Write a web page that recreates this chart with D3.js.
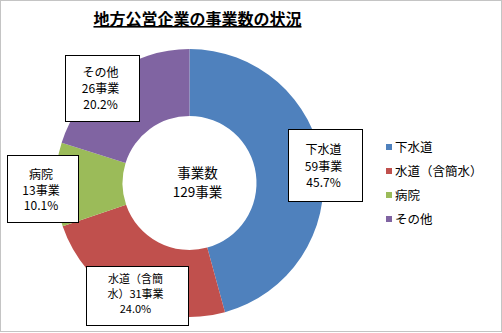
<!DOCTYPE html>
<html>
<head>
<meta charset="utf-8">
<script src="https://cdn.jsdelivr.net/npm/d3@7"></script>
<style>
  body { margin: 0; background: #fff; }
  svg text { font-family: "Noto Sans CJK JP", sans-serif; fill: #000; }
</style>
</head>
<body>
<div id="chart"></div>
<script>
var categories = ['下水道', '水道（含簡水）', '病院', 'その他'];
var counts = [59, 31, 13, 26];
var percents = ['45.7%', '24.0%', '10.1%', '20.2%'];
var colors = ['#4f81bd', '#c0504d', '#9bbb59', '#8064a2'];
var title = '地方公営企業の事業数の状況';
var centerLines = ['事業数', '129事業'];
// label text lines per category (wrapped as in the original)
var labelLines = [
    ['下水道', '59事業', '45.7%'],
    ['水道（含簡', '水）31事業', '24.0%'],
    ['病院', '13事業', '10.1%'],
    ['その他', '26事業', '20.2%']
];

function makeDonut(id) {
    var width = 502, height = 333;
    var cx = 189.5, cy = 183, outer = 134, inner = 67;

    d3.select('#' + id).html('');
    var svg = d3.select('#' + id)
        .append('svg')
        .attr('width', width)
        .attr('height', height);

    // outer dotted frame
    svg.append('rect')
        .attr('x', 0.5).attr('y', 0.5)
        .attr('width', width - 1).attr('height', height - 2)
        .attr('fill', 'none')
        .attr('stroke', '#888')
        .attr('stroke-dasharray', '1,1');

    // title
    svg.append('text')
        .attr('x', 197.5)
        .attr('y', 25)
        .attr('text-anchor', 'middle')
        .style('font-size', '16px')
        .style('font-weight', 'bold')
        .style('text-decoration', 'underline')
        .text(title);

    var color = d3.scaleOrdinal().domain(categories).range(colors);

    var pie = d3.pie()
        .sort(null)
        .value(function(d, i) { return counts[i]; });
    var arc = d3.arc().innerRadius(inner).outerRadius(outer);

    var g = svg.append('g')
        .attr('transform', 'translate(' + cx + ',' + cy + ')');
    g.selectAll('path')
        .data(pie(categories))
        .enter()
        .append('path')
        .attr('d', arc)
        .attr('fill', function(d) { return color(d.data); });

    // centre text
    svg.append('text')
        .attr('x', 197.5).attr('y', 178)
        .attr('text-anchor', 'middle')
        .style('font-size', '13.5px')
        .text(centerLines[0]);
    svg.append('text')
        .attr('x', 197.5).attr('y', 197)
        .attr('text-anchor', 'middle')
        .style('font-size', '13.5px')
        .text(centerLines[1]);

    // data label boxes (manually placed, like in the original)
    var boxes = [
        {x: 288.5, y: 129.5, w: 74, h: 72, line: 16.5, top: 154, fs: 12},
        {x: 86.5, y: 266.5, w: 102, h: 59, line: 15, top: 283, fs: 11},
        {x: 7.5, y: 155.5, w: 71, h: 67, line: 15.5, top: 179, fs: 12},
        {x: 65.5, y: 55.5, w: 74, h: 66, line: 16, top: 77, fs: 12}
    ];
    categories.forEach(function(c, i) {
        var b = boxes[i];
        svg.append('rect')
            .attr('x', b.x).attr('y', b.y)
            .attr('width', b.w).attr('height', b.h)
            .attr('fill', '#fff')
            .attr('stroke', '#000')
            .attr('stroke-width', 1);
        labelLines[i].forEach(function(t, j) {
            svg.append('text')
                .attr('x', b.x + b.w / 2 - 2)
                .attr('y', b.top + j * b.line)
                .attr('text-anchor', 'middle')
                .style('font-size', b.fs + 'px')
                .text(t);
        });
    });

    // legend
    var legend = svg.selectAll('.legend')
        .data(categories)
        .enter()
        .append('g')
        .attr('transform', function(d, i) { return 'translate(386,' + (147 + i * 24) + ')'; });
    legend.append('rect')
        .attr('x', 0).attr('y', -3)
        .attr('width', 6).attr('height', 6)
        .attr('fill', function(d) { return color(d); });
    legend.append('text')
        .attr('x', 9).attr('y', 5)
        .style('font-size', '12.5px')
        .text(function(d) { return d; });
}
makeDonut('chart');
</script>
</body>
</html>
